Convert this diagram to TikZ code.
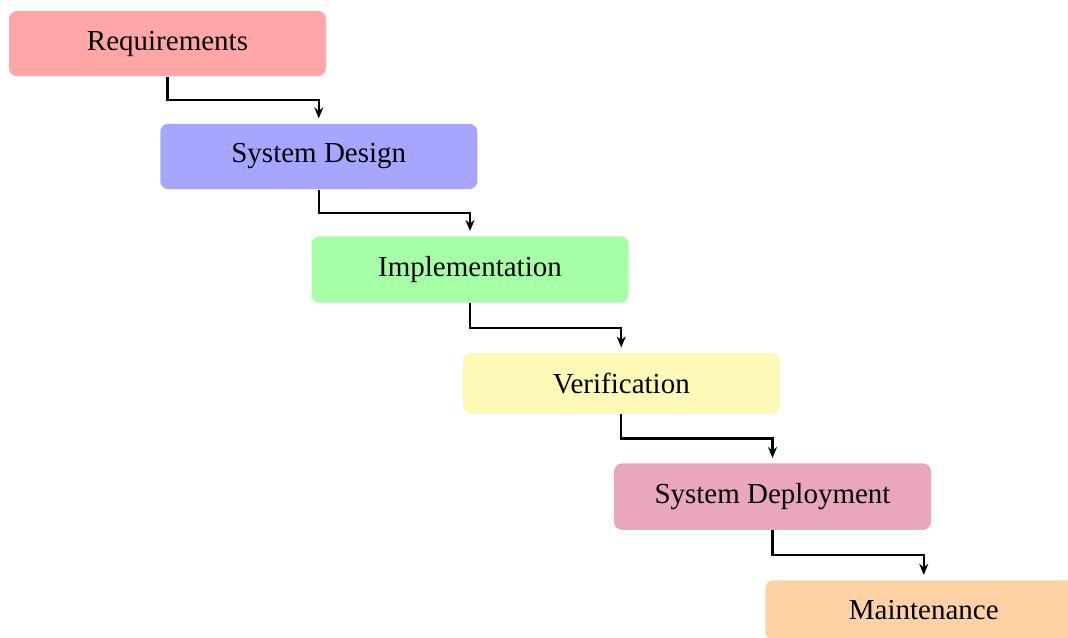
\documentclass[tikz,border=0pt]{standalone}
\usepackage{fontspec}
\setmainfont{Liberation Serif}
\usetikzlibrary{arrows.meta,calc}
\definecolor{cReq}{RGB}{255,166,166}
\definecolor{cDes}{RGB}{166,166,255}
\definecolor{cImp}{RGB}{166,255,166}
\definecolor{cVer}{RGB}{254,249,182}
\definecolor{cDep}{RGB}{233,166,188}
\definecolor{cMai}{RGB}{255,210,166}
\tikzset{
  phase/.style={rounded corners=4pt, minimum width=158.5pt, inner sep=10pt,
    font=\fontsize{14.5}{17}\selectfont, text=black},
  flow/.style={line width=1.1pt, -{Stealth[length=5.5pt,width=4.5pt]}, shorten >=2.5pt}
}
\begin{document}
\begin{tikzpicture}[x=0.5pt,y=-0.5pt]
\clip (0,0) rectangle (1068,637);
\fill[white] (0,0) rectangle (1068,637);
\node[phase, fill=cReq] (req) at (167.5,43.5) {Requirements};
\node[phase, fill=cDes] (des) at (318.75,156.5) {System Design};
\node[phase, fill=cImp] (imp) at (470,269.5) {Implementation};
\node[phase, fill=cVer] (ver) at (621.25,383.3) {Verification};
\node[phase, fill=cDep] (dep) at (772.5,496.6) {System Deployment};
\node[phase, fill=cMai] (mai) at (923.75,610) {Maintenance};
\foreach \a/\b in {req/des,des/imp,imp/ver,ver/dep,dep/mai}{
  \draw[flow] (\a.south) |- ($(\a.south)!.5!(\b.north)$) -| (\b.north);
}
\end{tikzpicture}
\end{document}
